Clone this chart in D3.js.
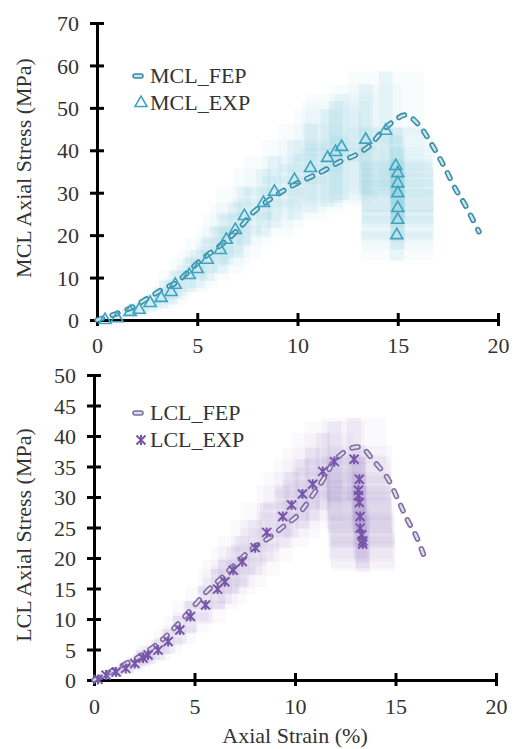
<!DOCTYPE html>
<html><head><meta charset="utf-8">
<script src="https://cdn.jsdelivr.net/npm/d3@7"></script>
<style>body{margin:0;background:#fff}svg{display:block}text{font-family:"Liberation Serif","Times New Roman",serif}</style>
</head><body>
<script>
// ---------- DATA ----------
const xTicks = [0, 5, 10, 15, 20];
const mclYTicks = [0, 10, 20, 30, 40, 50, 60, 70];
const lclYTicks = [0, 5, 10, 15, 20, 25, 30, 35, 40, 45, 50];

const mclFepStrain = [0, 1.05, 1.8, 2.55, 3.3, 4.0, 4.75, 5.3, 6.05, 6.75, 7.25, 7.8, 8.8, 9.8, 11.15, 12.15, 12.9, 13.65, 14.15, 14.75, 15.4, 16.05, 16.55, 17.0, 17.4, 17.9, 18.3, 18.75, 19.05];
const mclFepStress = [0, 1.65, 3.1, 5.2, 7.3, 9.0, 12.3, 14.6, 17.2, 20.0, 22.4, 25.4, 29.0, 31.8, 34.8, 37.4, 38.9, 41.3, 44.1, 46.7, 48.3, 46.0, 42.5, 38.9, 35.4, 30.7, 27.6, 23.6, 20.8];

const mclExpStrain = [0.4, 1.0, 1.65, 2.1, 2.65, 3.2, 3.7, 3.9, 4.6, 5.0, 5.5, 6.15, 6.45, 6.9, 7.35, 8.3, 8.85, 9.85, 10.65, 11.5, 11.9, 12.2, 13.4, 14.4, 14.9, 15.0, 15.0, 15.0, 15.0, 15.0, 14.95];
const mclExpStress = [0, 0.4, 1.9, 2.4, 4.0, 5.2, 6.6, 8.3, 10.6, 12.0, 14.2, 16.5, 18.9, 21.2, 24.5, 27.6, 30.2, 33.0, 35.8, 38.2, 39.6, 40.8, 42.5, 44.6, 36.3, 34.6, 32.2, 29.9, 26.4, 23.6, 20.0];
const mclExpXErr = [0.2, 0.3, 0.4, 0.5, 0.6, 0.7, 0.8, 0.8, 0.9, 1.0, 1.1, 1.2, 1.2, 1.3, 1.4, 1.5, 1.5, 1.6, 1.6, 1.7, 1.7, 1.8, 1.8, 1.9, 1.8, 1.8, 1.8, 1.8, 1.8, 1.8, 1.8];
const mclExpYErr = [0.4, 0.8, 1.2, 1.6, 2.0, 2.5, 3.0, 3.4, 4.0, 4.5, 5.0, 5.5, 6.0, 6.5, 7.0, 8.0, 8.5, 9.5, 10.5, 11.5, 12.0, 12.5, 13.0, 14.0, 9.0, 9.0, 8.5, 8.0, 8.0, 7.0, 6.0];

const lclFepStrain = [0, 0.8, 1.6, 2.4, 3.4, 3.9, 4.6, 5.1, 5.6, 6.3, 7.0, 7.9, 8.75, 9.4, 10.1, 10.65, 11.15, 11.6, 11.9, 12.6, 13.1, 13.4, 13.9, 14.6, 15.2, 15.6, 16.0, 16.4];
const lclFepStress = [0, 1.3, 2.7, 4.1, 6.6, 8.2, 10.7, 12.6, 14.5, 16.6, 18.9, 21.6, 23.4, 25.1, 26.9, 29.2, 31.6, 33.9, 35.7, 37.7, 38.2, 37.9, 36.0, 33.1, 29.0, 26.2, 23.8, 20.5];

const lclExpStrain = [0.2, 0.6, 1.1, 1.58, 2.03, 2.44, 2.69, 3.19, 3.69, 4.27, 4.80, 5.55, 6.15, 6.51, 6.93, 7.38, 8.02, 8.59, 9.39, 9.83, 10.37, 10.88, 11.38, 11.96, 12.94, 13.2, 13.16, 13.16, 13.2, 13.24, 13.24, 13.32, 13.37, 13.37];
const lclExpStress = [0.1, 0.8, 1.3, 1.9, 2.7, 3.6, 4.1, 4.9, 6.3, 8.2, 10.4, 12.3, 14.9, 16.1, 18.0, 19.4, 21.7, 24.2, 26.8, 28.7, 30.5, 32.1, 34.2, 35.8, 36.2, 32.9, 31.1, 30.2, 29.1, 26.8, 24.9, 23.8, 22.8, 22.3];
const lclExpXErr = [0.2, 0.3, 0.3, 0.4, 0.5, 0.5, 0.6, 0.6, 0.7, 0.8, 0.9, 1.0, 1.0, 1.1, 1.1, 1.2, 1.2, 1.3, 1.3, 1.4, 1.4, 1.5, 1.5, 1.5, 1.6, 1.6, 1.6, 1.6, 1.6, 1.6, 1.6, 1.6, 1.6, 1.6];
const lclExpYErr = [0.3, 0.5, 0.7, 0.9, 1.1, 1.3, 1.5, 1.7, 2.0, 2.3, 2.6, 3.0, 3.3, 3.6, 3.9, 4.2, 4.5, 4.8, 5.1, 5.4, 5.7, 6.0, 6.3, 6.6, 6.8, 5.5, 5.5, 5.5, 5.0, 5.0, 5.0, 4.5, 4.5, 4.5];

// ---------- DRAW ----------
const W = 514, H = 749;
const svg = d3.select("body").append("svg").attr("width", W).attr("height", H);

function panel(cfg) {
  const x = d3.scaleLinear().domain([0, 20]).range(cfg.xr);
  const y = d3.scaleLinear().domain([0, cfg.ymax]).range(cfg.yr);
  const g = svg.append("g");

  // error shading
  const eg = g.append("g");
  cfg.ex.forEach((sx, i) => {
    const sy = cfg.ey[i], dx = cfg.xe[i], dy = cfg.ye[i];
    eg.append("rect")
      .attr("x", x(sx - dx)).attr("y", y(sy + dy))
      .attr("width", x(sx + dx) - x(sx - dx)).attr("height", y(sy - dy) - y(sy + dy))
      .attr("fill", cfg.shade).attr("opacity", 0.05);
    eg.append("rect")
      .attr("x", x(sx) - 7).attr("y", y(sy + dy))
      .attr("width", 14).attr("height", y(sy - dy) - y(sy + dy))
      .attr("fill", cfg.shade).attr("opacity", 0.1);
    eg.append("rect")
      .attr("x", x(sx - dx)).attr("y", y(sy) - 4)
      .attr("width", x(sx + dx) - x(sx - dx)).attr("height", 8)
      .attr("fill", cfg.shade).attr("opacity", 0.08);
  });

  // axes
  const xa = d3.axisBottom(x).tickValues(xTicks).tickSize(0).tickPadding(0);
  const ya = d3.axisLeft(y).tickValues(cfg.yTicks).tickSize(0).tickPadding(0);
  const gx = g.append("g").attr("transform", `translate(0,${cfg.yr[0]})`).call(xa);
  const gy = g.append("g").attr("transform", `translate(${cfg.xr[0]},0)`).call(ya);
  [gx, gy].forEach(a => {
    a.select(".domain").attr("stroke", "#000").attr("stroke-width", 3);
    a.selectAll("text").attr("font-size", 22).attr("fill", "#333")
      .style("font-family", '"Liberation Serif",serif');
  });
  gx.selectAll(".tick line").attr("y1", -7).attr("y2", 6).attr("stroke", "#000").attr("stroke-width", 3);
  gy.selectAll(".tick line").attr("x1", -7).attr("x2", 7).attr("stroke", "#000").attr("stroke-width", 3);
  gx.selectAll("text").attr("y", cfg.xLabDy).attr("dy", 0);
  gy.selectAll("text").attr("x", -18).attr("dy", "0.35em");

  // FEP dashed line
  const line = d3.line().x(d => x(d[0])).y(d => y(d[1])).curve(d3.curveCatmullRom);
  const pts = cfg.fx.map((v, i) => [v, cfg.fy[i]]);
  g.append("path").attr("d", line(pts)).attr("fill", "none")
    .attr("stroke", cfg.dark).attr("stroke-width", 5.5).attr("stroke-linecap", "round")
    .attr("stroke-dasharray", "6,10");
  g.append("path").attr("d", line(pts)).attr("fill", "none")
    .attr("stroke", cfg.light).attr("stroke-width", 2.4).attr("stroke-linecap", "round")
    .attr("stroke-dasharray", "6,10");

  // markers
  const mg = g.append("g");
  cfg.ex.forEach((sx, i) => cfg.marker(mg, x(sx), y(cfg.ey[i])));

  // legend
  const lx = cfg.legX, ly = cfg.legY;
  g.append("line").attr("x1", lx - 3).attr("x2", lx + 3).attr("y1", ly).attr("y2", ly)
    .attr("stroke", cfg.dark).attr("stroke-width", 5.5).attr("stroke-linecap", "round");
  g.append("line").attr("x1", lx - 3).attr("x2", lx + 3).attr("y1", ly).attr("y2", ly)
    .attr("stroke", cfg.light).attr("stroke-width", 2.4).attr("stroke-linecap", "round");
  g.append("text").attr("x", lx + 12).attr("y", ly + 7).attr("font-size", 22).attr("fill", "#333").text(cfg.fepName);
  cfg.marker(g, lx + 3, ly + 27);
  g.append("text").attr("x", lx + 12).attr("y", ly + 34).attr("font-size", 22).attr("fill", "#333").text(cfg.expName);

  // y title
  g.append("text").attr("transform", `translate(${cfg.yTitleX},${cfg.yTitleY}) rotate(-90)`)
    .attr("text-anchor", "middle").attr("font-size", 22).attr("fill", "#333").text(cfg.yTitle);
  return { x, y };
}

const tri = d3.symbol().type(d3.symbolTriangle).size(62);
function triMarker(g, cx, cy) {
  g.append("path").attr("d", tri()).attr("transform", `translate(${cx},${cy})`)
    .attr("fill", "none").attr("stroke", "#3ea3bf").attr("stroke-width", 1.6);
}
function starMarker(g, cx, cy) {
  const r = 4.5;
  g.append("path")
    .attr("d", `M${cx - r},${cy - r}L${cx + r},${cy + r}M${cx - r},${cy + r}L${cx + r},${cy - r}M${cx},${cy - r - 0.5}L${cx},${cy + r + 0.5}`)
    .attr("fill", "none").attr("stroke", "#7656a8").attr("stroke-width", 2);
}

panel({
  xr: [97, 498], yr: [320, 23], ymax: 70, yTicks: mclYTicks,
  fx: mclFepStrain, fy: mclFepStress, ex: mclExpStrain, ey: mclExpStress, xe: mclExpXErr, ye: mclExpYErr,
  shade: "#6cc3da", dark: "#3d8aa3", light: "#c4e6ef", marker: triMarker,
  legX: 138, legY: 76, fepName: "MCL_FEP", expName: "MCL_EXP",
  yTitle: "MCL Axial Stress (MPa)", yTitleX: 31, yTitleY: 168, xLabDy: 33
});
panel({
  xr: [94, 496], yr: [680, 375], ymax: 50, yTicks: lclYTicks,
  fx: lclFepStrain, fy: lclFepStress, ex: lclExpStrain, ey: lclExpStress, xe: lclExpXErr, ye: lclExpYErr,
  shade: "#a58dcc", dark: "#7f6ca0", light: "#e0d8ee", marker: starMarker,
  legX: 138, legY: 413, fepName: "LCL_FEP", expName: "LCL_EXP",
  yTitle: "LCL Axial Stress (MPa)", yTitleX: 31, yTitleY: 535, xLabDy: 34
});
svg.append("text").attr("x", 295).attr("y", 743).attr("text-anchor", "middle")
  .attr("font-size", 22).attr("fill", "#333").text("Axial Strain (%)");
</script>
</body></html>
